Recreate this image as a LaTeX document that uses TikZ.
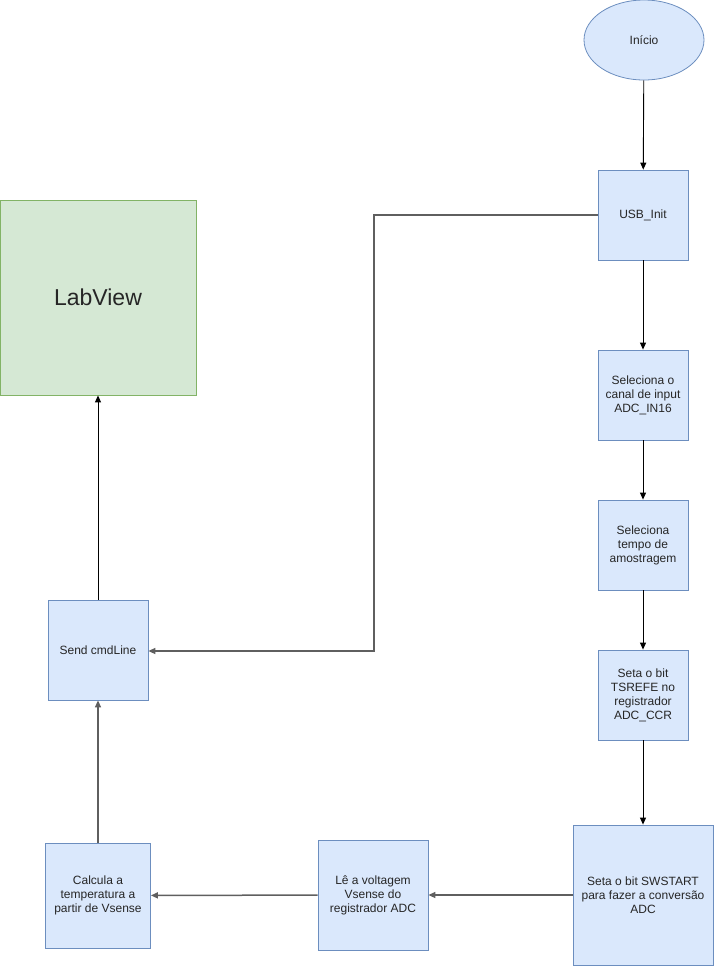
\documentclass[tikz,border=0pt]{standalone}
\usepackage{fontspec}
\setmainfont{Liberation Sans}
\usetikzlibrary{arrows.meta,shapes.geometric}
\definecolor{bfill}{HTML}{DAE8FC}
\definecolor{bdraw}{HTML}{6C8EBF}
\definecolor{gfill}{HTML}{D5E8D4}
\definecolor{gdraw}{HTML}{82B366}
\definecolor{lgrey}{RGB}{95,95,95}
\tikzset{
  box/.style={draw=bdraw, fill=bfill, line width=0.8pt, inner sep=2pt, align=center,
    font=\fontsize{12pt}{14pt}\selectfont, text=black!85},
  arr/.style={-{Triangle[length=7pt,width=6pt]}, line width=0.9pt, black},
  garr/.style={-{Triangle[length=7pt,width=6pt]}, line width=1.5pt, lgrey},
}
\begin{document}
\begin{tikzpicture}[x=1pt,y=-1pt]
\useasboundingbox (0,0) rectangle (714,967);
\node[box, ellipse, minimum width=120pt, minimum height=80pt] (inicio) at (644,40) {Início};
\node[box, minimum width=90pt, minimum height=90pt] (usb) at (643,215) {USB\_Init};
\node[box, minimum width=90pt, minimum height=90pt] (canal) at (643,395) {Seleciona o\\canal de input\\ADC\_IN16};
\node[box, minimum width=90pt, minimum height=90pt] (tempo) at (643,545) {Seleciona\\tempo de\\amostragem};
\node[box, minimum width=90pt, minimum height=90pt] (tsrefe) at (643,695) {Seta o bit\\TSREFE no\\registrador\\ADC\_CCR};
\node[box, minimum width=140pt, minimum height=140pt] (swstart) at (643,895) {Seta o bit SWSTART\\para fazer a conversão\\ADC};
\node[box, minimum width=110pt, minimum height=110pt] (le) at (373,895) {Lê a voltagem\\Vsense do\\registrador ADC};
\node[box, minimum width=105pt, minimum height=105pt] (calc) at (98,895.5) {Calcula a\\temperatura a\\partir de Vsense};
\node[box, minimum width=100pt, minimum height=100pt] (send) at (98,650) {Send cmdLine};
\node[box, draw=gdraw, fill=gfill, minimum width=196pt, minimum height=195pt, font=\fontsize{23pt}{27pt}\selectfont] (lab) at (98,297.5) {LabView};
\coordinate (k1) at (374,215);
\coordinate (k2) at (374,651);
\draw[arr] (inicio) -- (usb);
\draw[arr] (usb) -- (canal);
\draw[arr] (canal) -- (tempo);
\draw[arr] (tempo) -- (tsrefe);
\draw[arr] (tsrefe) -- (swstart);
\draw[garr] (usb.west) -- (k1) -- (k2) -- (send.east |- k2);
\draw[garr] (swstart) -- (le);
\draw[garr] (le) -- (calc);
\draw[garr] (calc) -- (send);
\draw[arr] (send) -- (lab);
\end{tikzpicture}
\end{document}
